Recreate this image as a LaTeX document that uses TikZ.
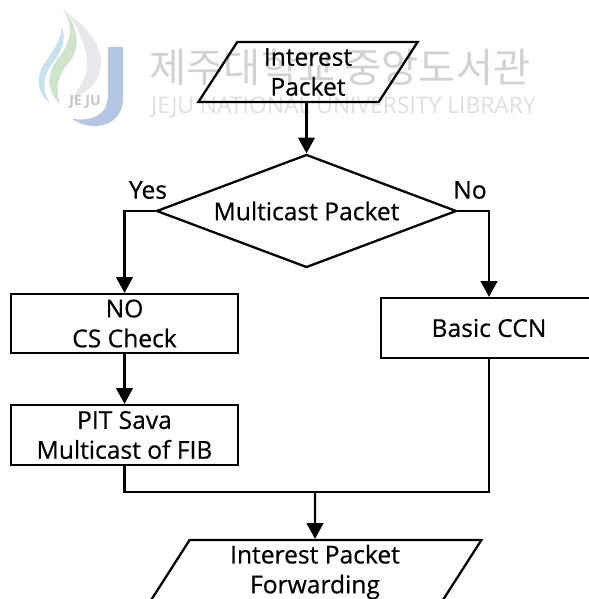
\documentclass[tikz,border=0pt]{standalone}
\usepackage{fontspec}
\setmainfont{Open Sans}
\newfontfamily\flowfont[FakeBold=0.5]{Open Sans}
\newfontfamily\krfont{Noto Sans CJK KR}
\usetikzlibrary{arrows.meta,shapes.geometric}
\definecolor{logoblue}{HTML}{B3C6E3}
\definecolor{logogrey}{HTML}{E8E8EC}
\definecolor{logogreen}{HTML}{D0E4CC}
\definecolor{logosky}{HTML}{C5E2EE}
\tikzset{
	flowtext/.style={font=\flowfont\fontsize{14}{17}\selectfont, align=center, inner sep=0pt},
	ioblock/.style={draw, flowtext, line width=1.3pt, trapezium, trapezium stretches=true},
	procblock/.style={draw, flowtext, line width=1.3pt, rectangle},
	flowarrow/.style={-{Triangle[length=9pt,width=9.5pt]}, line width=1.3pt},
	flowline/.style={line width=1.3pt},
}
\begin{document}
\begin{tikzpicture}
	\useasboundingbox (0,0) rectangle (11.78,11.98);
	\clip (0,0) rectangle (11.78,11.98);
	% library mark behind the chart
	\fill[logogrey] (1.24,11.8) .. controls (1.84,11.38) and (2.1,10.98) .. (2,10.58) .. controls (1.9,10.14) and (1.6,10.14) .. (1.44,9.98) .. controls (1.6,10.3) and (1.84,10.48) .. (1.7,10.98) .. controls (1.6,11.38) and (1.44,11.62) .. cycle;
	\fill[logogreen] (1.26,11.8) .. controls (1.6,11.4) and (1.62,11) .. (1.35,10.7) .. controls (1.15,10.45) and (1.1,10.2) .. (1.2,9.9) .. controls (0.95,10.15) and (0.9,10.45) .. (1.15,10.8) .. controls (1.4,11.1) and (1.5,11.4) .. cycle;
	\fill[logosky] (1.24,11.44) .. controls (1.36,11.1) and (1.15,10.85) .. (1,10.65) .. controls (0.85,10.4) and (0.85,10.15) .. (1,9.92) .. controls (0.75,10.1) and (0.72,10.4) .. (0.85,10.65) .. controls (1,10.9) and (1.2,11.1) .. cycle;
	\fill[logoblue] (2.16,11.04) -- (2.46,11.04) -- (2.46,10) .. controls (2.46,9.5) and (1.9,9.3) .. (1.45,9.6) .. controls (1.9,9.55) and (2.16,9.7) .. (2.16,10.1) -- cycle;
	\node[text=gray!45, font=\fontsize{8}{9}\selectfont\bfseries] (logotext) at (1.7,9.94) {JE JU};
	\node[text=gray!35, font=\krfont\fontsize{23}{26}\selectfont] (libkr) at (6.8,10.64) {제주대학교 중앙도서관};
	\node[text=gray!25, font=\fontsize{13}{15}\selectfont] (liben) at (6.87,9.84) {JEJU NATIONAL UNIVERSITY  LIBRARY};
	% chart
	\node[ioblock, trapezium left angle=63, trapezium right angle=117, minimum width=4.4cm, minimum height=1.2cm] (packet) at (6.16,10.54) {Interest\\Packet};
	\node[draw, flowtext, line width=1.3pt, diamond, aspect=2.65, minimum width=6cm, minimum height=2.26cm] (decision) at (6.13,7.76) {Multicast Packet};
	\node[procblock, minimum width=4.54cm, minimum height=1.18cm] (nocs) at (2.49,5.51) {NO\\CS Check};
	\node[procblock, minimum width=4.32cm, minimum height=1.2cm] (basic) at (9.78,5.42) {Basic CCN};
	\node[procblock, minimum width=4.54cm, minimum height=1.2cm] (pit) at (2.49,3.28) {PIT Sava\\Multicast of FIB};
	\node[ioblock, trapezium left angle=63, trapezium right angle=117, minimum width=6.66cm, minimum height=1.28cm] (forward) at (6.3,0.54) {Interest Packet\\Forwarding};
	\node[flowtext] (yes) at (2.96,8.18) {Yes};
	\node[flowtext] (no) at (9.4,8.18) {No};
	\coordinate (merge) at (6.3,2.14);
	\draw[flowarrow] (packet.south -| decision.north) -- (decision.north);
	\draw[flowarrow] (decision.west) -| (nocs.north);
	\draw[flowarrow] (decision.east) -| (basic.north);
	\draw[flowarrow] (nocs) -- (pit);
	\draw[flowline] (pit.south) |- (merge);
	\draw[flowline] (basic.south) |- (merge);
	\draw[flowarrow] (merge) -- (forward.north);
\end{tikzpicture}
\end{document}
